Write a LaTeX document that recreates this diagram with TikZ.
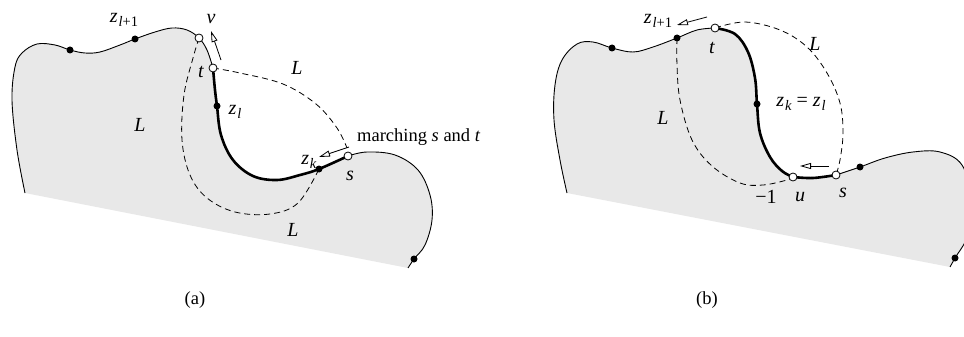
\documentclass[tikz,border=0pt]{standalone}
\usepackage{fontspec}
\setmainfont{Liberation Serif}
\usetikzlibrary{arrows.meta}
\definecolor{regfill}{RGB}{232,232,232}
\newcommand\zsub[2]{\textit{#1}\kern0.8pt\raisebox{-0.45ex}{\fontsize{14.5}{15}\selectfont #2}}
\begin{document}
\begin{tikzpicture}[x=1pt,y=-1pt,
  thinline/.style={line width=0.9pt},
  thickline/.style={line width=2.6pt},
  dashline/.style={line width=0.8pt,dash pattern=on 6pt off 4pt},
  opendot/.style={circle,draw,fill=white,line width=0.8pt,inner sep=0pt,minimum size=8pt},
  fulldot/.style={circle,fill=black,inner sep=0pt,minimum size=7pt},
  marcharrow/.style={line width=0.8pt,-{Triangle[open,length=11pt,width=6pt]}},
  lab/.style={font=\fontsize{20}{22}\selectfont,inner sep=0pt},
  txt/.style={font=\fontsize{18.5}{20}\selectfont,inner sep=0pt}]
\useasboundingbox (0,0) rectangle (964,337);
\clip (0,0) rectangle (964,337);

% ---------------- panel (a) ----------------
\fill[regfill] plot[smooth,tension=0.6] coordinates {(25,193) (17,150) (12,100) (15,67) (22,53) (37,44) (55,45) (70,50) (85,53) (100,52) (120,45) (135,39) (155,32) (172,28) (187,30) (199,38) (207,50) (213,68)}
  -- plot[smooth,tension=0.6] coordinates {(213,68) (215,90) (217,106) (221,135) (233,160) (253,176) (277,180) (300,175) (319,169) (348,156)}
  -- plot[smooth,tension=0.6] coordinates {(348,156) (367,152) (395,155) (418,170) (430,195) (432,220) (425,245) (414,259) (408,268)}
  -- cycle;
\draw[thinline] plot[smooth,tension=0.6] coordinates {(25,193) (17,150) (12,100) (15,67) (22,53) (37,44) (55,45) (70,50) (85,53) (100,52) (120,45) (135,39) (155,32) (172,28) (187,30) (199,38) (207,50) (213,68)};
\draw[thickline] plot[smooth,tension=0.6] coordinates {(213,68) (215,90) (217,106) (221,135) (233,160) (253,176) (277,180) (300,175) (319,169) (348,156)};
\draw[thinline] plot[smooth,tension=0.6] coordinates {(348,156) (367,152) (395,155) (418,170) (430,195) (432,220) (425,245) (414,259) (408,268)};

\coordinate (av) at (199,38);
\coordinate (at) at (213,68);
\coordinate (azk) at (319,169);
\coordinate (as) at (348,156);
\coordinate (aend) at (347,148);

\draw[dashline] plot[smooth,tension=0.6] coordinates {(av) (193,58) (184,95) (182,140) (190,175) (207,198) (235,212) (270,214) (298,203) (azk)};
\draw[dashline] plot[smooth,tension=0.6] coordinates {(at) (240,73) (283,84) (316,104) (337,128) (aend)};

\node[fulldot] (a1) at (70,50) {};
\node[fulldot] (azl1) at (135,39) {};
\node[opendot] (avc) at (av) {};
\node[opendot] (atc) at (at) {};
\node[fulldot] (azl) at (217,106) {};
\node[fulldot] (azkd) at (azk) {};
\node[opendot] (asc) at (as) {};
\node[fulldot] (a2) at (414,259) {};

\coordinate (avtail) at (221,60);
\coordinate (avhead) at (211,31);
\draw[marcharrow] (avtail) -- (avhead);
\coordinate (aktail) at (349,147);
\coordinate (akhead) at (319,157);
\draw[marcharrow] (aktail) -- (akhead);

\node[lab] (lzl1) at (124,20) {\zsub{z}{\textit{l}+1}};
\node[lab] (lv) at (211,19) {\textit{v}};
\node[lab] (lt) at (201,72) {\textit{t}};
\node[lab] (lL1) at (297,68) {\textit{L}};
\node[lab] (lzl) at (235,112) {\zsub{z}{\textit{l}}};
\node[lab] (lL2) at (140,125) {\textit{L}};
\node[txt,anchor=west] (lmarch) at (357,137) {marching \textit{s} and \textit{t}};
\node[lab] (lzk) at (309,162) {\zsub{z}{\textit{k}}};
\node[lab] (ls) at (350,176) {\textit{s}};
\node[lab] (lL3) at (293,230) {\textit{L}};
\node[txt] (capa) at (195,300) {(a)};

% ---------------- panel (b) ----------------
\fill[regfill] plot[smooth,tension=0.6] coordinates {(567,193) (560,160) (554,120) (555,85) (562,60) (577,44) (593,42) (612,48) (633,52) (653,47) (677,38) (697,30) (715,28)}
  -- plot[smooth,tension=0.6] coordinates {(715,28) (735,34) (748,52) (755,78) (757,104) (760,133) (770,157) (782,171) (793,177)}
  -- plot[smooth,tension=0.6] coordinates {(793,177) (813,178) (836,175)}
  -- plot[smooth,tension=0.6] coordinates {(836,175) (860,167) (885,158) (913,152) (940,152) (962,165) (972,200) (968,235) (955,258) (950,267)}
  -- cycle;
\draw[thinline] plot[smooth,tension=0.6] coordinates {(567,193) (560,160) (554,120) (555,85) (562,60) (577,44) (593,42) (612,48) (633,52) (653,47) (677,38) (697,30) (715,28)};
\draw[thickline] plot[smooth,tension=0.6] coordinates {(715,28) (735,34) (748,52) (755,78) (757,104) (760,133) (770,157) (782,171) (793,177)};
\draw[thickline] plot[smooth,tension=0.6] coordinates {(793,177) (813,178) (836,175)};
\draw[thinline] plot[smooth,tension=0.6] coordinates {(836,175) (860,167) (885,158) (913,152) (940,152) (962,165) (972,200) (968,235) (955,258) (950,267)};

\coordinate (bzl1) at (677,38);
\coordinate (bt) at (715,28);
\coordinate (bu) at (793,177);
\coordinate (bs) at (836,175);

\draw[dashline] plot[smooth,tension=0.6] coordinates {(bzl1) (677,65) (680,100) (692,140) (712,166) (740,183) (763,185) (787,180) (bu)};
\draw[dashline] plot[smooth,tension=0.6] coordinates {(bt) (745,22) (780,30) (807,47) (827,73) (840,103) (843,133) (840,160) (bs)};

\node[fulldot] (b1) at (612,48) {};
\node[fulldot] (bzl1d) at (bzl1) {};
\node[opendot] (btc) at (bt) {};
\node[fulldot] (bzk) at (757,104) {};
\node[opendot] (buc) at (bu) {};
\node[opendot] (bsc) at (bs) {};
\node[fulldot] (b2) at (860,167) {};
\node[fulldot] (b3) at (955,258) {};

\coordinate (b1tail) at (707,17);
\coordinate (b1head) at (677,25);
\draw[marcharrow] (b1tail) -- (b1head);
\coordinate (b2tail) at (829,166);
\coordinate (b2head) at (800,166);
\draw[marcharrow] (b2tail) -- (b2head);

\node[lab] (mzl1) at (658,21) {\zsub{z}{\textit{l}+1}};
\node[lab] (mt) at (712,48) {\textit{t}};
\node[lab] (mL1) at (815,44) {\textit{L}};
\node[lab] (mzkzl) at (801,104) {\zsub{z}{\textit{k}} = \zsub{z}{\textit{l}}};
\node[lab] (mL2) at (663,118) {\textit{L}};
\node[lab] (mm1) at (766,197) {\textminus1};
\node[lab] (mu) at (800,197) {\textit{u}};
\node[lab] (ms) at (843,193) {\textit{s}};
\node[txt] (capb) at (707,300) {(b)};
\end{tikzpicture}
\end{document}
